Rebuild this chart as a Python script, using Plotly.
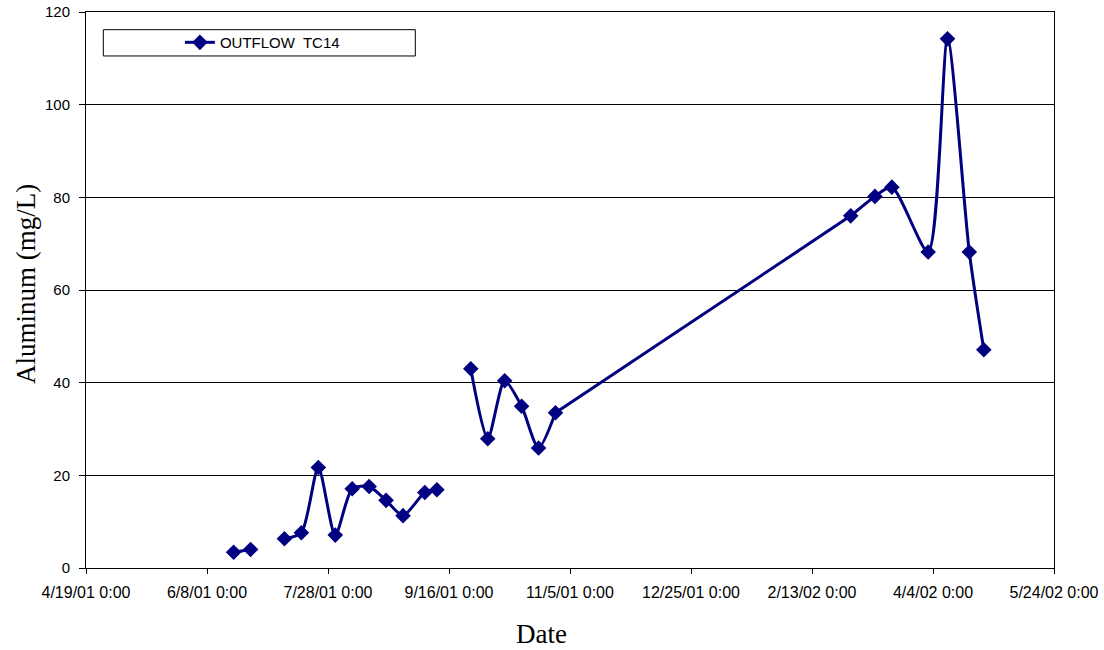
import plotly.graph_objects as go

# Sampling dates and aluminium concentrations at outflow TC14
# (None marks a sampling date with no result, which breaks the line)
dates = [
    "2001-06-19", "2001-06-26", "2001-07-03", "2001-07-10", "2001-07-17",
    "2001-07-24", "2001-07-31", "2001-08-07", "2001-08-14", "2001-08-21",
    "2001-08-28", "2001-09-06", "2001-09-11", "2001-09-18", "2001-09-25",
    "2001-10-02", "2001-10-09", "2001-10-16", "2001-10-23", "2001-10-30",
    "2002-03-01", "2002-03-11", "2002-03-18", "2002-04-02", "2002-04-10",
    "2002-04-19", "2002-04-25",
]
aluminum = [
    3.4, 4.0, None, 6.3, 7.6,
    21.7, 7.1, 17.1, 17.6, 14.6,
    11.3, 16.3, 16.9, None, 43.0,
    27.9, 40.4, 34.9, 25.9, 33.5,
    76.0, 80.2, 82.2, 68.2, 114.2,
    68.2, 47.1,
]

# Axis ticks every 50 days
tick_dates = [
    "2001-04-19", "2001-06-08", "2001-07-28", "2001-09-16", "2001-11-05",
    "2001-12-25", "2002-02-13", "2002-04-04", "2002-05-24",
]
tick_labels = [
    "4/19/01 0:00", "6/8/01 0:00", "7/28/01 0:00", "9/16/01 0:00", "11/5/01 0:00",
    "12/25/01 0:00", "2/13/02 0:00", "4/4/02 0:00", "5/24/02 0:00",
]
y_ticks = [0, 20, 40, 60, 80, 100, 120]

navy = "#000080"
sans = "Liberation Sans, Arial, sans-serif"
serif = "Liberation Serif, Times New Roman, serif"

# The winter gap (no samples Nov-Feb) is bridged with a plain segment,
# the sampled stretches on either side are smoothed.
split = dates.index("2001-10-30")
line_style = dict(color=navy, width=3, shape="spline", smoothing=0.7)
marker_style = dict(symbol="diamond", size=12, color=navy)

fig = go.Figure()
fig.add_trace(go.Scatter(
    x=dates[:split + 1], y=aluminum[:split + 1], name="OUTFLOW  TC14",
    mode="lines+markers", connectgaps=False, legendgroup="tc14",
    line=line_style, marker=marker_style,
))
fig.add_trace(go.Scatter(
    x=dates[split:split + 2], y=aluminum[split:split + 2],
    mode="lines", showlegend=False, legendgroup="tc14", hoverinfo="skip",
    line=dict(color=navy, width=3),
))
fig.add_trace(go.Scatter(
    x=dates[split + 1:], y=aluminum[split + 1:],
    mode="lines+markers", showlegend=False, legendgroup="tc14",
    line=line_style, marker=marker_style,
))

# Legend frame
fig.add_shape(type="rect", xref="paper", yref="paper",
              x0=0.0179, x1=0.3402, y0=0.9209, y1=0.9682,
              line=dict(color="black", width=1), fillcolor="white", layer="below")

# Axis titles
fig.add_annotation(text="Date", xref="paper", yref="paper",
                   x=0.471, y=-0.1187, xanchor="center", yanchor="middle",
                   showarrow=False, font=dict(family=serif, size=27))
fig.add_annotation(text="Aluminum (mg/L)", xref="paper", yref="paper",
                   x=-0.062, y=0.5108, xanchor="center", yanchor="middle",
                   textangle=-90, showarrow=False, font=dict(family=serif, size=27))

fig.update_layout(
    width=1104, height=650,
    margin=dict(l=86, r=50, t=12, b=82),
    paper_bgcolor="white", plot_bgcolor="white",
    font=dict(family=sans, size=15, color="black"),
    showlegend=True,
    legend=dict(x=0.097, y=0.945, xanchor="left", yanchor="middle",
                bgcolor="rgba(0,0,0,0)", borderwidth=0,
                font=dict(family=sans, size=15)),
    xaxis=dict(
        type="date", range=["2001-04-19", "2002-05-24"], automargin=False,
        tickmode="array", tickvals=tick_dates, ticktext=tick_labels,
        ticks="outside", ticklen=5, tickcolor="black",
        showline=True, linecolor="black", linewidth=1, mirror=True,
        showgrid=False, zeroline=False,
        tickfont=dict(family=sans, size=16),
        ticklabelstandoff=5,
    ),
    yaxis=dict(
        range=[0, 120], automargin=False, tickmode="array", tickvals=y_ticks,
        ticks="outside", ticklen=6, tickcolor="black",
        showline=True, linecolor="black", linewidth=1, mirror=True,
        showgrid=True, gridcolor="black", gridwidth=1, zeroline=False,
        tickfont=dict(family=sans, size=15),
        ticklabelstandoff=6,
    ),
)

fig.write_html("out.html")
